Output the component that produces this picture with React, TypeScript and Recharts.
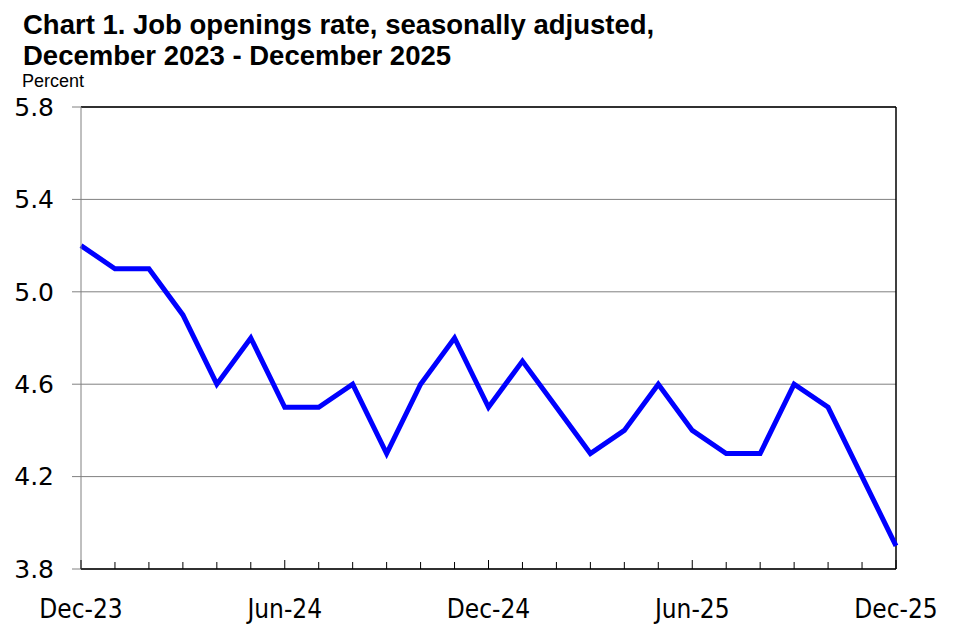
import React from "react";
import { LineChart, Line, XAxis, YAxis, CartesianGrid, ReferenceLine } from "recharts";

const months = [
  "Dec-23", "Jan-24", "Feb-24", "Mar-24", "Apr-24", "May-24", "Jun-24", "Jul-24", "Aug-24",
  "Sep-24", "Oct-24", "Nov-24", "Dec-24", "Jan-25", "Feb-25", "Mar-25", "Apr-25", "May-25",
  "Jun-25", "Jul-25", "Aug-25", "Sep-25", "Oct-25", "Nov-25", "Dec-25",
];
const rates = [
  5.2, 5.1, 5.1, 4.9, 4.6, 4.8, 4.5, 4.5, 4.6, 4.3, 4.6, 4.8, 4.5,
  4.7, 4.5, 4.3, 4.4, 4.6, 4.4, 4.3, 4.3, 4.6, 4.5, 4.2, 3.9,
];
const yTicks = [3.8, 4.2, 4.6, 5.0, 5.4, 5.8];
const labeledMonths = ["Dec-23", "Jun-24", "Dec-24", "Jun-25", "Dec-25"];

const data = months.map((m, i) => ({ month: m, rate: rates[i] }));

const XTick = (props: any) => {
  const { x, y, payload } = props;
  const labeled = labeledMonths.includes(payload.value);
  const len = labeled ? 9 : 7;
  return (
    <g>
      <line x1={x} x2={x} y1={y} y2={y - len} stroke="#000" strokeWidth={1} />
      {labeled && (
        <text
          x={x}
          y={y + 49}
          textAnchor="middle"
          fontFamily="'DejaVu Sans Condensed', 'DejaVu Sans', sans-serif"
          fontSize={26}
          fill="#000"
        >
          {payload.value}
        </text>
      )}
    </g>
  );
};

export default function App() {
  return (
    <div style={{ position: "absolute", left: 0, top: 0, width: 954, height: 633, background: "#fff" }}>
      <div
        style={{
          position: "absolute",
          left: 23,
          top: 9,
          fontFamily: "'Liberation Sans', Arial, sans-serif",
          fontWeight: "bold",
          fontSize: 27.5,
          lineHeight: "31px",
          color: "#000",
          whiteSpace: "nowrap",
        }}
      >
        Chart 1. Job openings rate, seasonally adjusted,
        <br />
        December 2023 - December 2025
      </div>
      <div
        style={{
          position: "absolute",
          left: 22,
          top: 71,
          fontFamily: "'Liberation Sans', Arial, sans-serif",
          fontSize: 18,
          color: "#000",
        }}
      >
        Percent
      </div>
      <div style={{ position: "absolute", left: 0, top: 0 }}>
        <LineChart width={954} height={633} data={data} margin={{ top: 107, right: 58, bottom: 14, left: 0 }}>
          <CartesianGrid vertical={false} stroke="#808080" strokeWidth={1} />
          <XAxis
            dataKey="month"
            interval={0}
            height={50}
            axisLine={{ stroke: "#000", strokeWidth: 1.5 }}
            tickLine={false}
            tickSize={0}
            tickMargin={0}
            tick={<XTick />}
          />
          <YAxis
            type="number"
            domain={[3.8, 5.8]}
            ticks={yTicks}
            width={81}
            axisLine={{ stroke: "#808080", strokeWidth: 1 }}
            tickLine={{ stroke: "#808080" }}
            tickSize={9}
            tickMargin={18}
            tickFormatter={(v: number) => v.toFixed(1)}
            tick={{ fill: "#000", fontSize: 25, fontFamily: "'DejaVu Sans', sans-serif" }}
          />
          <ReferenceLine y={5.8} stroke="#000" strokeWidth={1.5} />
          <ReferenceLine x="Dec-25" stroke="#000" strokeWidth={1.5} />
          <Line
            type="linear"
            dataKey="rate"
            stroke="#0000FF"
            strokeWidth={5}
            dot={false}
            isAnimationActive={false}
          />
        </LineChart>
      </div>
    </div>
  );
}
